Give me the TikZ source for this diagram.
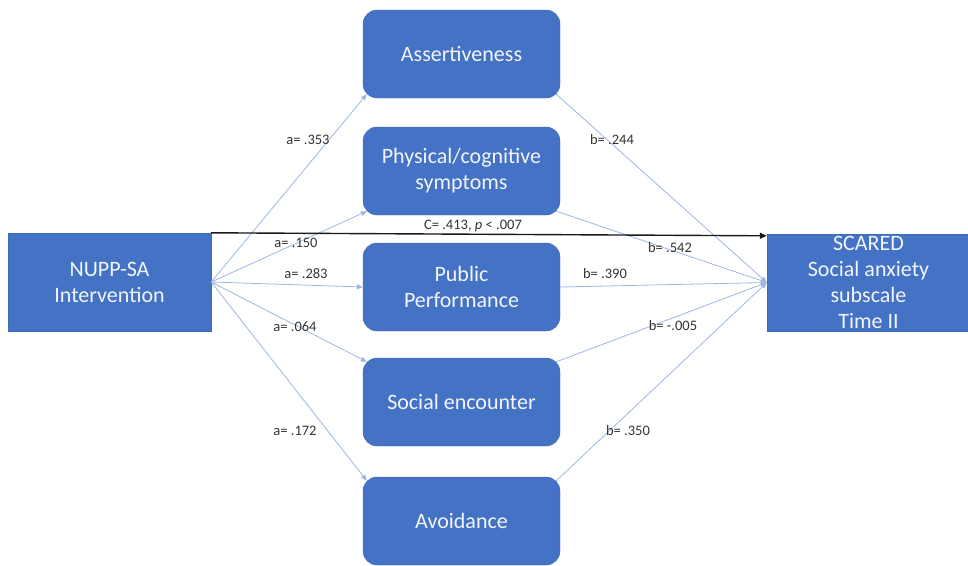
\documentclass[tikz,border=0pt]{standalone}
\usepackage{fontspec}
\setmainfont{Carlito}
\usetikzlibrary{arrows.meta}
\definecolor{boxblue}{HTML}{4472C4}
\definecolor{lineblue}{HTML}{9DB6E2}
\definecolor{boxtext}{HTML}{F2F5FB}
\begin{document}
\begin{tikzpicture}[x=1pt,y=-1pt,
  sqbox/.style={fill=boxblue,draw=boxblue!92!black,line width=0.4pt,text=boxtext,
     font=\fontsize{22}{26}\selectfont,align=center,inner sep=0pt},
  medbox/.style={sqbox,rounded corners=14pt,minimum width=197pt,minimum height=88pt},
  lbl/.style={font=\fontsize{14.5}{16}\selectfont,text=black!80,inner sep=0pt},
  apath/.style={draw=lineblue,line width=0.8pt,-{Triangle[length=6pt,width=5pt]}},
  cpath/.style={draw=black!90,line width=1.4pt,-{Triangle[length=7pt,width=6pt]}}]
\useasboundingbox (0,0) rectangle (968,565);
\node[sqbox,minimum width=203pt,minimum height=98pt] (nupp) at (109.5,282) {NUPP-SA\\Intervention};
\node[sqbox,minimum width=203pt,minimum height=97pt] (scared) at (868.5,282.5) {SCARED\\Social anxiety\\subscale\\Time II};
\node[medbox] (asr) at (461.5,54) {Assertiveness};
\node[medbox] (phy) at (461.5,171) {Physical/cognitive\\symptoms};
\node[medbox] (pub) at (461.5,287) {Public\\Performance};
\node[medbox] (soc) at (461.5,402) {Social encounter};
\node[medbox] (avo) at (461.5,521) {Avoidance};
% a paths
\draw[apath] (nupp.east) -- ([xshift=4pt,yshift=4pt]asr.south west);
\draw[apath] (nupp.east) -- ([xshift=4pt,yshift=4pt]phy.south west);
\draw[apath] (nupp.east) -- (pub.west);
\draw[apath] (nupp.east) -- ([xshift=4pt,yshift=-4pt]soc.north west);
\draw[apath] (nupp.east) -- ([xshift=4pt,yshift=-4pt]avo.north west);
% b paths
\draw[apath] ([xshift=-4pt,yshift=4pt]asr.south east) -- (scared.west);
\draw[apath] ([xshift=-4pt,yshift=4pt]phy.south east) -- (scared.west);
\draw[apath] (pub.east) -- (scared.west);
\draw[apath] ([xshift=-4pt,yshift=-4pt]soc.north east) -- (scared.west);
\draw[apath] ([xshift=-4pt,yshift=-4pt]avo.north east) -- (scared.west);
% c path
\draw[cpath] (nupp.north east) -- ([yshift=-2pt]scared.north west);
% labels
\node[lbl] (la1) at (308,140) {a= .353};
\node[lbl] (la2) at (296,243) {a= .150};
\node[lbl] (la3) at (306,274) {a= .283};
\node[lbl] (la4) at (295,327) {a= .064};
\node[lbl] (la5) at (295,431) {a= .172};
\node[lbl] (lb1) at (612,140) {b= .244};
\node[lbl] (lb2) at (670,248) {b= .542};
\node[lbl] (lb3) at (605,274) {b= .390};
\node[lbl] (lb4) at (673,326) {b= -.005};
\node[lbl] (lb5) at (628,431) {b= .350};
\node[lbl] (lc) at (473,226) {C= .413, \textit{p} < .007};
\end{tikzpicture}
\end{document}
